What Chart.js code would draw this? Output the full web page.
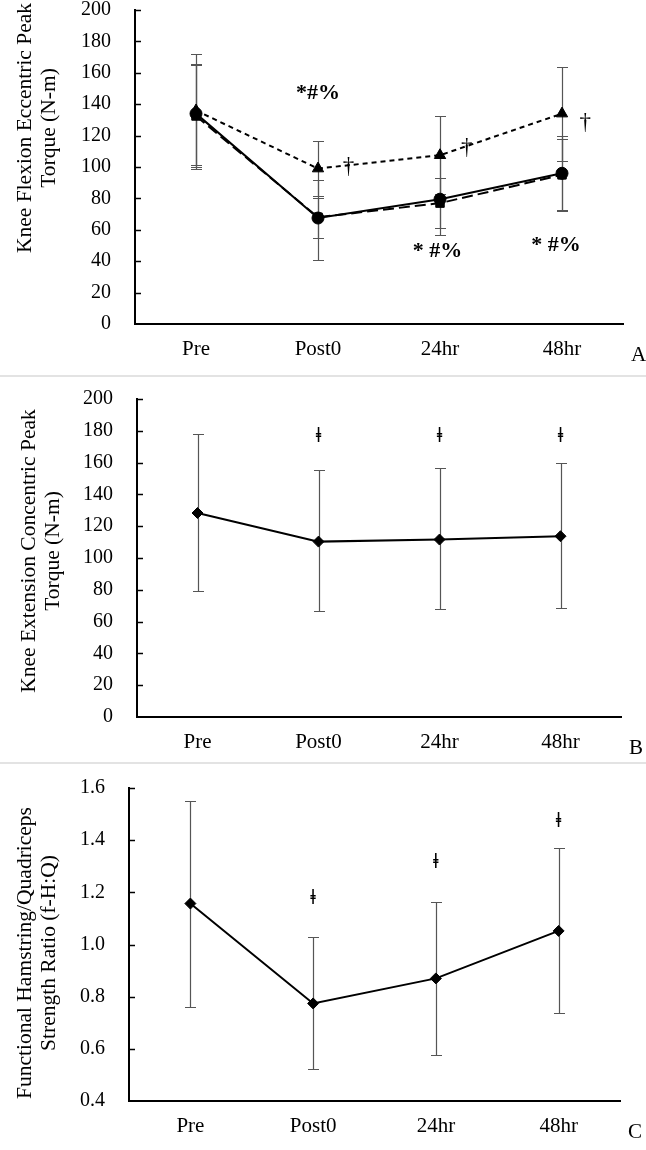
<!DOCTYPE html>
<html><head><meta charset="utf-8">
<script src="https://cdn.jsdelivr.net/npm/chart.js@4.4.1/dist/chart.umd.min.js"></script>
<style>
html,body{margin:0;padding:0;background:#fff;}
body{width:646px;height:1150px;position:relative;overflow:hidden;}
canvas{position:absolute;left:0;}
.sep{position:absolute;left:0;width:646px;height:2px;background:#e3e3e3;}
</style></head><body>
<canvas id="cA" width="646" height="376" style="top:0px"></canvas>
<div class="sep" style="top:375px"></div>
<canvas id="cB" width="646" height="386" style="top:377px"></canvas>
<div class="sep" style="top:762px"></div>
<canvas id="cC" width="646" height="386" style="top:764px"></canvas>
<script>
// ---------- data ----------
const categories = ['Pre', 'Post0', '24hr', '48hr'];

// Panel A: knee flexion eccentric peak torque (three conditions)
const aTriangle     = [136, 99, 107.5, 134];
const aTriangleHigh = [172, 116.5, 132.5, 164];
const aTriangleLow  = [100, 81.5, 82.5, 104];
const aCircle       = [134, 67.5, 79.5, 96];
const aCircleHigh   = [165.5, 92, 105.5, 120];
const aCircleLow    = [101, 41, 57, 72];
const aSquare       = [132.5, 68, 77, 95];
const aSquareHigh   = [165, 80.5, 93, 118];
const aSquareLow    = [98.5, 55, 61, 72.5];
const aYTicks = [0, 20, 40, 60, 80, 100, 120, 140, 160, 180, 200];
const aNoteText = ['*#%', '* #%', '* #%', '\u2020', '\u2020', '\u2020'];
const aNoteX    = [1, 1.98, 2.95, 1.25, 2.22, 3.19];
const aNoteY    = [147, 46, 50, 100, 112, 128];

// Panel B: knee extension concentric peak torque
const bLine     = [128.3, 110.3, 111.6, 113.7];
const bLineHigh = [177.7, 155.5, 156.5, 159.7];
const bLineLow  = [79.1, 66.4, 67.9, 68.5];
const bYTicks = [0, 20, 40, 60, 80, 100, 120, 140, 160, 180, 200];
const bNoteText = ['\u01C2', '\u01C2', '\u01C2'];
const bNoteX    = [1, 2, 3];
const bNoteY    = [176.5, 176.5, 176.5];

// Panel C: functional H:Q ratio
const cLine     = [1.157, 0.774, 0.870, 1.052];
const cLineHigh = [1.550, 1.027, 1.163, 1.370];
const cLineLow  = [0.761, 0.521, 0.577, 0.736];
const cYTicks = [0.4, 0.6, 0.8, 1.0, 1.2, 1.4, 1.6];
const cNoteText = ['\u01C2', '\u01C2', '\u01C2'];
const cNoteX    = [1, 2, 3];
const cNoteY    = [1.176, 1.313, 1.47];

// ---------- drawing ----------
const SERIF = '"Liberation Serif", "Times New Roman", Times, serif';

const deco = {
  id: 'deco',
  beforeDatasetsDraw(chart, args, o) {
    const {ctx, chartArea: a, scales: {x, y}} = chart;
    ctx.save();
    ctx.strokeStyle = '#000';
    ctx.lineWidth = 1.5;
    y.ticks.forEach(t => {
      const py = Math.round(y.getPixelForValue(t.value)) + 0.5;
      if (Math.abs(py - a.bottom) < 2) return;
      ctx.beginPath(); ctx.moveTo(a.left, py); ctx.lineTo(a.left + 6, py); ctx.stroke();
    });
    ctx.strokeStyle = '#555';
    ctx.lineWidth = 1.2;
    chart.data.datasets.forEach(ds => {
      if (!ds.errHigh) return;
      ds.data.forEach((v, i) => {
        const px = Math.round(x.getPixelForValue(i)) + 0.5;
        const ph = Math.round(y.getPixelForValue(ds.errHigh[i])) + 0.5;
        const pl = Math.round(y.getPixelForValue(ds.errLow[i])) + 0.5;
        ctx.beginPath();
        ctx.moveTo(px, ph); ctx.lineTo(px, pl);
        ctx.moveTo(px - 5.5, ph); ctx.lineTo(px + 5.5, ph);
        ctx.moveTo(px - 5.5, pl); ctx.lineTo(px + 5.5, pl);
        ctx.stroke();
      });
    });
    ctx.restore();
  },
  afterDraw(chart, args, o) {
    const {ctx, chartArea: a, scales: {x, y}} = chart;
    ctx.save();
    ctx.fillStyle = '#000';
    ctx.textAlign = 'center';
    ctx.textBaseline = 'middle';
    // notes
    o.noteText.forEach((t, i) => {
      if (t.indexOf('*') >= 0) ctx.font = 'bold 22px ' + SERIF;
      else if (t === '\u2020') ctx.font = '23px ' + SERIF;
      else ctx.font = 'bold 20px ' + SERIF;
      ctx.fillText(t, x.getPixelForValue(o.noteX[i]), y.getPixelForValue(o.noteY[i]));
    });
    // panel letter
    ctx.font = '21px ' + SERIF;
    ctx.textAlign = 'left';
    ctx.fillText(o.letter, a.right + 8, a.bottom + 31);
    // axis title
    ctx.translate(o.titleX, o.titleY);
    ctx.rotate(-Math.PI / 2);
    ctx.textAlign = 'center';
    ctx.font = '21.5px ' + SERIF;
    o.title.forEach((line, k) => ctx.fillText(line, 0, (k - (o.title.length - 1) / 2) * 24));
    ctx.restore();
  }
};

function makeChart(id, datasets, yTicks, fmt, box, deco_opts) {
  const canvas = document.getElementById(id);
  const H = canvas.height;
  return new Chart(canvas, {
    type: 'line',
    data: {labels: categories, datasets},
    plugins: [deco],
    options: {
      responsive: false,
      animation: false,
      devicePixelRatio: 1,
      layout: {padding: {top: box.top, right: 646 - box.right, left: 0, bottom: 0}},
      plugins: {legend: {display: false}, tooltip: {enabled: false}, deco: deco_opts},
      scales: {
        x: {
          type: 'category',
          offset: true,
          grid: {display: false, drawTicks: false},
          border: {display: true, color: '#000', width: 2},
          ticks: {color: '#000', font: {family: SERIF, size: 21}, padding: 13, maxRotation: 0},
          afterFit: s => { s.height = H - box.bottom; s.paddingLeft = 0; s.paddingRight = 0; }
        },
        y: {
          min: yTicks[0], max: yTicks[yTicks.length - 1],
          grid: {display: false, drawTicks: false},
          border: {display: true, color: '#000', width: 2},
          ticks: {color: '#000', font: {family: SERIF, size: 20}, padding: 24, callback: fmt},
          afterBuildTicks: s => { s.ticks = yTicks.map(v => ({value: v})); },
          afterFit: s => { s.width = box.left; s.paddingTop = 0; s.paddingBottom = 0; }
        }
      }
    }
  });
}

function lineSet(data, high, low, style, dash, r) {
  return {
    data, errHigh: high, errLow: low,
    borderColor: '#000', backgroundColor: '#000', borderWidth: 2, borderDash: dash,
    pointStyle: style, pointRadius: r, pointBackgroundColor: '#000', pointBorderColor: '#000',
    pointBorderWidth: 1, tension: 0, fill: false
  };
}

makeChart('cA', [
  lineSet(aCircle, aCircleHigh, aCircleLow, 'circle', [], 6),
  lineSet(aSquare, aSquareHigh, aSquareLow, 'rect', [11, 5], 6),
  lineSet(aTriangle, aTriangleHigh, aTriangleLow, 'triangle', [5, 4], 6.5)
], aYTicks, v => String(v), {top: 10, bottom: 324, left: 135, right: 623},
  {noteText: aNoteText, noteX: aNoteX, noteY: aNoteY, letter: 'A',
   title: ['Knee Flexion Eccentric Peak', 'Torque (N-m)'], titleX: 37, titleY: 128});

makeChart('cB', [
  lineSet(bLine, bLineHigh, bLineLow, 'rectRot', [], 5.5)
], bYTicks, v => String(v), {top: 22, bottom: 340, left: 137, right: 621},
  {noteText: bNoteText, noteX: bNoteX, noteY: bNoteY, letter: 'B',
   title: ['Knee Extension Concentric Peak', 'Torque (N-m)'], titleX: 41, titleY: 174});

makeChart('cC', [
  lineSet(cLine, cLineHigh, cLineLow, 'rectRot', [], 5.5)
], cYTicks, v => Number(v).toFixed(1), {top: 24, bottom: 337, left: 129, right: 620},
  {noteText: cNoteText, noteX: cNoteX, noteY: cNoteY, letter: 'C',
   title: ['Functional Hamstring/Quadriceps', 'Strength Ratio (f-H:Q)'], titleX: 37, titleY: 189});
</script>
</body></html>
